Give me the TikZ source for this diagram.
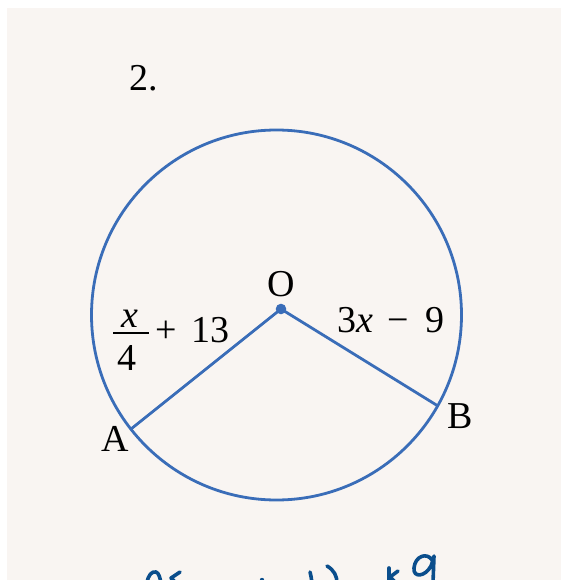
\documentclass[tikz,border=0pt]{standalone}
\usepackage{fontspec}
\setmainfont{Liberation Serif}
\definecolor{panel}{HTML}{F9F5F2}
\definecolor{geo}{HTML}{3A6DB8}
\definecolor{ink}{HTML}{0B4E8C}
\begin{document}
\begin{tikzpicture}[x=1pt,y=-1pt,
  lbl/.style={inner sep=0pt,font=\fontsize{38}{41}\selectfont},
  expr/.style={inner sep=0pt,font=\fontsize{38}{41}\selectfont},
  geoline/.style={draw=geo,line width=2.8pt},
  hand/.style={draw=ink,line width=3.6pt,line cap=round,line join=round}]
\useasboundingbox (0,0) rectangle (561,580);
\fill[white] (0,0) rectangle (561,580);
\fill[panel] (7,8) rectangle (561,580);
% number
\node[lbl,anchor=base west] (num) at (129,91) {2.};
% geometry
\coordinate (C) at (276.5,315);
\draw[geoline] (C) circle[radius=185];
\coordinate (O) at (281,309);
\coordinate (A) at (131,429);
\coordinate (B) at (438,406);
\draw[geoline] (A) -- (O) -- (B);
\fill[geo] (O) circle[radius=5.3];
% labels
\node[lbl,anchor=base] (lO) at (281,296) {O};
\node[lbl,anchor=base] (lA) at (115,451) {A};
\node[lbl,anchor=base] (lB) at (460,428) {B};
\node[expr,anchor=base] (fx) at (130,327) {\textit{x}};
\draw[line width=1.8pt] (113,333) -- (149,333);
\node[expr,anchor=base] (f4) at (127,370) {4};
\node[expr,anchor=base west] (p13) at (155,342) {+\hspace{15pt}13};
\node[expr,anchor=base west] (e2) at (337,332) {3\textit{x}\hspace{14pt}\char"2212\hspace{17pt}9};
% handwriting fragments (cut off at the bottom)
\begin{scope}
\clip (0,0) rectangle (561,580);
\draw[hand] (147,583) .. controls (148,575) and (152,571) .. (156,572) .. controls (159,573) and (160,578) .. (161,583);
\draw[hand] (180,572) -- (171,578) -- (176,583);
\fill[ink] (262,580) circle[radius=2.2];
\draw[hand] (310,572) .. controls (311,576) .. (312,583);
\draw[hand] (327,566) .. controls (334,570) and (337,576) .. (337,583);
\draw[hand] (389,568) -- (389,583);
\draw[hand] (398,571) -- (390,577) -- (396,583);
\draw[hand] (432,560) .. controls (427,552) and (415,556) .. (414,568) .. controls (413,578) and (425,577) .. (431,566) .. controls (433,560) and (434,557) .. (434,556) -- (433,583);
\end{scope}
\end{tikzpicture}
\end{document}
